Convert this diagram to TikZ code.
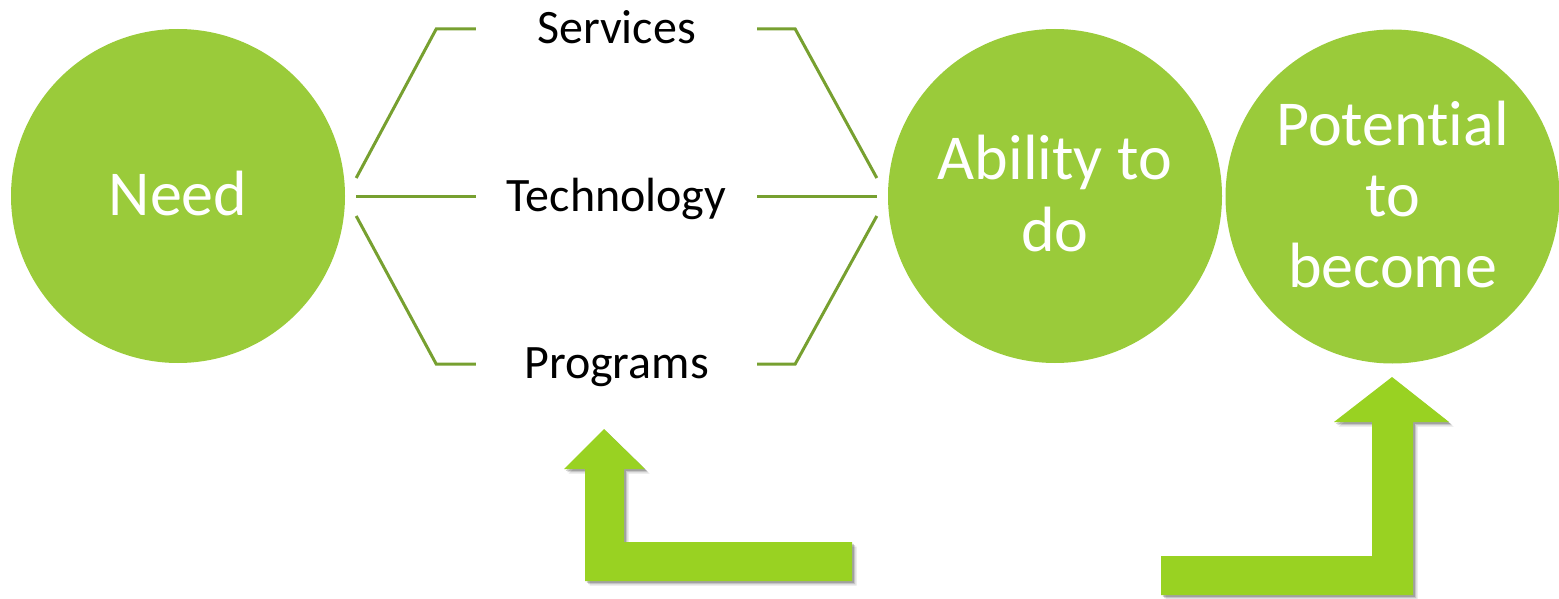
\documentclass[tikz,border=0pt]{standalone}
\usepackage{fontspec}
\setmainfont{Carlito}[Ligatures=NoCommon]
\usetikzlibrary{calc}
\definecolor{circgreen}{RGB}{154,203,58}
\definecolor{arrowgreen}{RGB}{153,210,34}
\definecolor{linegreen}{RGB}{119,160,48}
\tikzset{
  bigcircle/.style={circle, fill=circgreen, inner sep=0pt, minimum size=334pt,
    text=white, align=center, font=\fontsize{64}{71}\selectfont, text depth=0pt},
  label/.style={inner sep=0pt, minimum width=281pt, text height=29pt, text depth=0pt,
    font=\fontsize{48}{54}\selectfont},
  link/.style={draw=linegreen, line width=3pt},
  bentarrow/.style={fill=arrowgreen,
    preaction={fill=black, opacity=0.10, transform canvas={shift={(4.5pt,-4.5pt)}}},
    preaction={fill=black, opacity=0.14, transform canvas={shift={(3pt,-3pt)}}},
    preaction={fill=black, opacity=0.18, transform canvas={shift={(1.8pt,-1.8pt)}}}},
}
\begin{document}
\begin{tikzpicture}[x=1pt, y=-1pt]
  \useasboundingbox (0,0) rectangle (1559,599);

  % stages (text height = cap height + one baseline per extra line)
  \node[bigcircle, text height=38pt]  (need)      at (178,196)      {Need};
  \node[bigcircle, text height=110pt] (ability)   at (1055,196)     {Ability to\\do};
  \node[bigcircle, text height=181pt] (potential) at (1392.5,196.5) {Potential\\to\\become};

  % means
  \node[label] (services)   at (616.5,29)  {Services};
  \node[label] (technology) at (616.5,197) {Technology};
  \node[label] (programs)   at (616.5,364) {Programs};

  % fan-out from the need
  \draw[link] ([xshift=11pt,yshift=18pt]need.east) -- ++(80,-149) -- (services.west);
  \draw[link] ([xshift=11pt,yshift=-1pt]need.east) -- (technology.west);
  \draw[link] ([xshift=11pt,yshift=-20pt]need.east) -- ++(80,148) -- (programs.west);

  % fan-in to the ability
  \draw[link] (services.east) -- ++(38,0) -- ([xshift=-11pt,yshift=18pt]ability.west);
  \draw[link] (technology.east) -- ([xshift=-11pt,yshift=-1pt]ability.west);
  \draw[link] (programs.east) -- ++(38,0) -- ([xshift=-11pt,yshift=-20pt]ability.west);

  % bent arrows
  \path[bentarrow] (604,429) -- (645,469) -- (624,469) -- (624,542) -- (852,542)
    -- (852,581) -- (585,581) -- (585,469) -- (564,469) -- cycle;
  \path[bentarrow] (1392,377) -- (1449,422) -- (1413,422) -- (1413,595) -- (1161,595)
    -- (1161,556) -- (1372,556) -- (1372,422) -- (1334,422) -- cycle;
\end{tikzpicture}
\end{document}
